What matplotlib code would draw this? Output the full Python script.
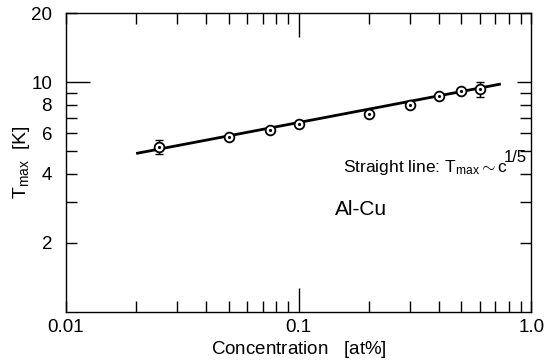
import numpy as np
import matplotlib
matplotlib.use('Agg')
import matplotlib.pyplot as plt

plt.rcParams['font.family'] = ['Liberation Sans', 'DejaVu Sans']
plt.rcParams['mathtext.fontset'] = 'custom'
plt.rcParams['mathtext.rm'] = 'Liberation Sans'
plt.rcParams['mathtext.it'] = 'Liberation Sans'

# Al-Cu data
conc = [0.025, 0.05, 0.075, 0.1, 0.2, 0.3, 0.4, 0.5, 0.6]
tmax = [5.2, 5.8, 6.2, 6.55, 7.3, 8.0, 8.7, 9.2, 9.35]
err_lo = [0.32, 0, 0, 0, 0, 0, 0, 0, 0.72]
err_hi = [0.4, 0, 0, 0, 0, 0, 0, 0, 0.68]

# straight line T ~ c^(1/5), end points
line_c = [0.0203, 0.73]
line_T = [4.91, 9.8]

fig = plt.figure(figsize=(5.48, 3.64), dpi=100)
ax = fig.add_axes([0.1204, 0.143, 0.849, 0.821])

ax.plot(line_c, line_T, color='black', linewidth=2.0, zorder=2)
ax.errorbar(conc, tmax, yerr=[err_lo, err_hi], fmt='none', ecolor='black',
            elinewidth=1.0, capsize=3, capthick=1.0, zorder=3)
ax.plot(conc, tmax, 'o', markersize=7, markerfacecolor='white',
        markeredgecolor='black', markeredgewidth=1.3, zorder=4)
ax.plot(conc, tmax, '.', markersize=2.5, color='black', zorder=5)

ax.set_xscale('log')
ax.set_yscale('log')
ax.set_xlim(0.01, 1.0)
ax.set_ylim(1.0, 20)

ax.set_xticks([0.01, 0.1, 1.0])
ax.set_xticklabels(['0.01', '0.1', '1.0'])
ax.set_xticks([m * d for d in (0.01, 0.1) for m in range(2, 10)], minor=True)
ax.set_yticks([2, 4, 6, 8, 10, 20])
ax.set_yticklabels(['2', '4', '6', '8', '10', '20'])
ax.set_yticks([3, 5, 7, 9], minor=True)
ax.yaxis.set_minor_formatter(plt.NullFormatter())
ax.xaxis.set_minor_formatter(plt.NullFormatter())

ax.tick_params(which='both', direction='in', top=True, right=True,
               width=1.0, labelsize=13.5)
ax.tick_params(axis='x', which='both', pad=5)
ax.tick_params(axis='y', which='both', pad=10)
ax.tick_params(which='major', length=8)
ax.tick_params(which='minor', length=8)
# long ticks at 0.1 and 10
for t in ax.xaxis.get_major_ticks()[1:2]:
    t.tick1line.set_markersize(17)
    t.tick2line.set_markersize(17)
for t in ax.yaxis.get_major_ticks()[4:5]:
    t.tick1line.set_markersize(17)
    t.tick2line.set_markersize(10)
for s in ax.spines.values():
    s.set_linewidth(1.0)

ax.set_xlabel(r'Concentration   $[$at%$]$', fontsize=13.5, labelpad=2)
ax.set_ylabel(r'T$_{\rm max}$  $[$K$]$', fontsize=14, labelpad=-1)

ax.text(0.596, 0.468, r'Straight line: T$_{\rm max}$$\sim$c',
        transform=ax.transAxes, fontsize=12.5, ha='left', va='baseline')
ax.text(0.942, 0.502, '1/5', transform=ax.transAxes, fontsize=12,
        ha='left', va='baseline')
ax.text(0.578, 0.324, 'Al-Cu', transform=ax.transAxes, fontsize=15,
        ha='left', va='baseline')

plt.savefig('out.png', dpi=100, facecolor='white')
plt.close()
